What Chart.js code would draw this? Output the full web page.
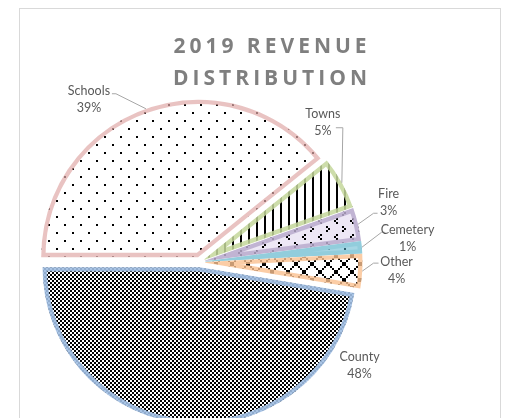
<!DOCTYPE html>
<html>
<head>
<meta charset="utf-8">
<script src="https://cdn.jsdelivr.net/npm/chart.js@4/dist/chart.umd.min.js"></script>
<style>
  html, body { margin: 0; padding: 0; overflow: hidden; background: #fff; width: 506px; height: 418px; }
  #frame { position: absolute; left: 19px; top: 8px; width: 480px; height: 440px; border: 1px solid #d9d9d9; }
  #wrap { position: absolute; left: 0; top: 0; width: 540px; height: 440px; }
</style>
</head>
<body>
<div id="frame"></div>
<div id="wrap"><canvas id="chartcontainer" width="540" height="440"></canvas></div>
<script>
// data (slice sizes estimated from the angles, labels as printed)
var categories = ['Schools', 'Towns', 'Fire', 'Cemetery', 'Other', 'County'];
var shares = [39.4, 5.4, 3.4, 1.2, 3.5, 47.6];
var pctLabels = ['39%', '5%', '3%', '1%', '4%', '48%'];
var titleLines = ['2019 REVENUE', 'DISTRIBUTION'];

// look
var explodeBy = 5.5; // every slice pulled out a little, like excel's explosion
var edgeColors = ['rgba(224,170,168,0.7)', 'rgba(196,215,155,0.85)', 'rgba(185,170,205,0.85)',
                  'rgba(146,205,220,1)', 'rgba(250,192,144,0.8)', 'rgba(160,190,226,0.9)'];
// label block offset from the slice's outer mid point, and leader end point (same origin) + elbow
var labelOffsets = [[-57, -9], [-19, -60], [30.5, -22], [45.7, -9], [34.3, -0.4], [173, -58.5]];
var leaderEnds = [[-34, -15, 4], [-6, -55, 7], [19.5, -11, -4], [22.7, -15, -3], [16.3, -8, -5], null];

var ctx = document.getElementById('chartcontainer').getContext('2d');

function makePattern(size, bg, ink, draw) {
    var c = document.createElement('canvas');
    c.width = size; c.height = size;
    var x = c.getContext('2d');
    x.fillStyle = bg;
    x.fillRect(0, 0, size, size);
    x.fillStyle = ink;
    draw(x);
    return ctx.createPattern(c, 'repeat');
}
function bits(rows) { // 8x8 excel style bitmap drawn at 2x
    return function (x) {
        rows.forEach(function (r, j) {
            for (var i = 0; i < r.length; i++) if (r[i] == '1') x.fillRect(i * 2, j * 2, 2, 2);
        });
    };
}

var fills = [
    makePattern(16, '#fff', '#000', function (x) { x.fillRect(0, 0, 2, 2); x.fillRect(8, 8, 2, 2); }),
    makePattern(8, '#fff', '#000', function (x) { x.fillRect(0, 0, 2, 8); }),
    makePattern(16, '#ede7f5', '#000', bits(['00000000', '00010000', '00001000', '00010000',
                                             '00000000', '10000000', '00000001', '10000000'])),
    makePattern(16, '#a6d6e4', '#2f5f6e', function (x) { x.fillRect(0, 0, 2, 2); x.fillRect(8, 8, 2, 2); }),
    makePattern(16, '#fff', '#000', bits(['10000001', '01000010', '00100100', '00011000',
                                          '00011000', '00100100', '01000010', '10000001'])),
    makePattern(4, '#fff', '#000', function (x) { x.fillRect(0, 0, 2, 2); x.fillRect(2, 2, 2, 2); })
];

var explode = {
    id: 'explode',
    afterDatasetsUpdate: function (chart) {
        chart.getDatasetMeta(0).data.forEach(function (arc) {
            var mid = (arc.startAngle + arc.endAngle) / 2;
            arc.x += Math.cos(mid) * explodeBy;
            arc.y += Math.sin(mid) * explodeBy;
        });
    }
};

var titleText = {
    id: 'titleText',
    afterDraw: function (chart) {
        var c = chart.ctx;
        c.save();
        c.font = 'bold 21px "Open Sans"';
        c.letterSpacing = '4px';
        c.fillStyle = '#7f7f7f';
        c.textAlign = 'center';
        c.textBaseline = 'middle';
        titleLines.forEach(function (t, i) { c.fillText(t, 272, 47 + i * 32); });
        c.restore();
    }
};

var sliceLabels = {
    id: 'sliceLabels',
    afterDatasetsDraw: function (chart) {
        var c = chart.ctx;
        c.save();
        chart.getDatasetMeta(0).data.forEach(function (arc, i) {
            var mid = (arc.startAngle + arc.endAngle) / 2;
            var ax = arc.x + Math.cos(mid) * arc.outerRadius;
            var ay = arc.y + Math.sin(mid) * arc.outerRadius;
            var le = leaderEnds[i];
            if (le) {
                c.strokeStyle = '#a6a6a6';
                c.lineWidth = 1;
                c.beginPath();
                c.moveTo(ax, ay);
                c.lineTo(ax + le[0] + le[2], ay + le[1]);
                c.lineTo(ax + le[0], ay + le[1]);
                c.stroke();
            }
            var tx = ax + labelOffsets[i][0], ty = ay + labelOffsets[i][1];
            c.font = '12.5px Lato';
            c.fillStyle = '#595959';
            c.textAlign = 'center';
            c.textBaseline = 'middle';
            c.fillText(categories[i], tx, ty - 8.5);
            c.fillText(pctLabels[i], tx, ty + 8.5);
        });
        c.restore();
    }
};

var chart = new Chart(ctx, {
    type: 'pie',
    data: {
        labels: categories,
        datasets: [{
            data: shares,
            backgroundColor: fills,
            borderColor: edgeColors,
            borderWidth: 4,
            borderAlign: 'inner',
            radius: 157
        }]
    },
    options: {
        responsive: false,
        animation: false,
        devicePixelRatio: 1,
        events: [],
        rotation: 270,
        layout: { padding: { top: 94, left: 0, right: 140, bottom: 10 } },
        plugins: {
            legend: { display: false },
            tooltip: { enabled: false }
        }
    },
    plugins: [explode, sliceLabels, titleText]
});
</script>
</body>
</html>
